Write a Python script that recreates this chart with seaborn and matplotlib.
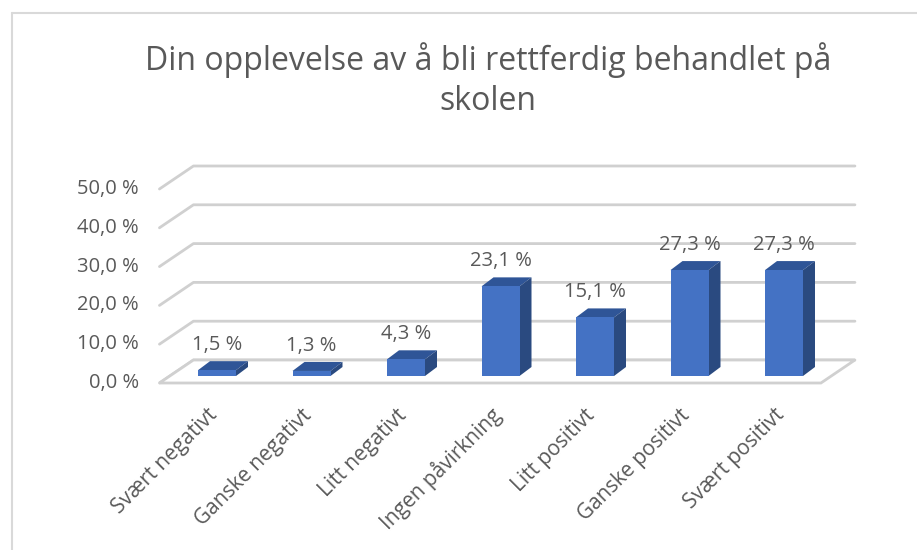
import numpy as np
import pandas as pd
import matplotlib
matplotlib.use("Agg")
import matplotlib.pyplot as plt
from matplotlib.patches import Polygon
from matplotlib.lines import Line2D
import seaborn as sns

# Data
CATEGORIES = ["Svært negativt", "Ganske negativt", "Litt negativt", "Ingen påvirkning",
              "Litt positivt", "Ganske positivt", "Svært positivt"]
VALUES = [1.5, 1.3, 4.3, 23.1, 15.1, 27.3, 27.3]
TICKS = [0, 10, 20, 30, 40, 50]
TITLE = "Din opplevelse av å bli rettferdig behandlet på\nskolen"

# Layout (pixels of a 917x550 figure)
W, H = 917, 550
X0_PX, DX_PX = 217, 94.5      # first bar centre, spacing between categories
Y0_PX, DY_PX = 376, 3.88      # bar base (from top), pixels per percent
XLIM = (-1.0, 7.0)
YLIM = (-8.0, 56.0)

# 3D depth offsets in data units
FRONT = (-10.3 / DX_PX, -7 / DY_PX)
BACK = (23.7 / DX_PX, 16 / DY_PX)
BAR_D = (12 / DX_PX, 9 / DY_PX)
BAR_W = 38 / DX_PX

FRONT_COL = "#4472C4"
TOP_COL = "#2F5597"
SIDE_COL = "#2A4A80"
GRID_COL = "#D0D0D0"
TEXT_COL = "#595959"

sns.set_theme(style="white")
plt.rcParams["font.family"] = ["Open Sans", "DejaVu Sans"]

fig = plt.figure(figsize=(W / 100, H / 100), dpi=100)
left_px = X0_PX + XLIM[0] * DX_PX
right_px = X0_PX + XLIM[1] * DX_PX
bot_px = Y0_PX - YLIM[0] * DY_PX
top_px = Y0_PX - YLIM[1] * DY_PX
ax = fig.add_axes([left_px / W, 1 - bot_px / H, (right_px - left_px) / W, (bot_px - top_px) / H])

df = pd.DataFrame({"kategori": CATEGORIES, "andel": VALUES})

# gridlines: left side wall + back wall
x_l, x_r = -0.5, 6.5
for v in TICKS:
    xs = [x_l + FRONT[0], x_l + BACK[0], x_r + BACK[0]]
    ys = [v + FRONT[1], v + BACK[1], v + BACK[1]]
    ax.plot(xs, ys, color=GRID_COL, lw=2, zorder=1, solid_capstyle="round")
    ax.text(x_l + FRONT[0] - 0.22, v + FRONT[1], f"{v:.1f} %".replace(".", ","),
            ha="right", va="center", fontsize=14.5, color=TEXT_COL)

# floor outline
floor = [(x_l + FRONT[0], FRONT[1]), (x_r + FRONT[0], FRONT[1]),
         (x_r + BACK[0], BACK[1]), (x_l + BACK[0], BACK[1])]
ax.add_patch(Polygon(floor, closed=True, facecolor="white", edgecolor=GRID_COL, lw=2, zorder=1.5))

# front faces
sns.barplot(data=df, x="kategori", y="andel", color=FRONT_COL, saturation=1,
            width=BAR_W, ax=ax, zorder=3, edgecolor="none")

# top and side faces
for i, v in enumerate(VALUES):
    xl, xr = i - BAR_W / 2, i + BAR_W / 2
    top = [(xl, v), (xr, v), (xr + BAR_D[0], v + BAR_D[1]), (xl + BAR_D[0], v + BAR_D[1])]
    side = [(xr, 0), (xr, v), (xr + BAR_D[0], v + BAR_D[1]), (xr + BAR_D[0], BAR_D[1])]
    ax.add_patch(Polygon(top, closed=True, facecolor=TOP_COL, edgecolor="none", zorder=2.9))
    ax.add_patch(Polygon(side, closed=True, facecolor=SIDE_COL, edgecolor="none", zorder=2.9))
    ax.text(i, v + 25 / DY_PX, f"{v:.1f} %".replace(".", ","), ha="center", va="center",
            fontsize=14.5, color=TEXT_COL, zorder=4)
    ax.text(i - 0.03, FRONT[1] - 7.5, CATEGORIES[i], rotation=45, rotation_mode="anchor",
            ha="right", va="center", fontsize=15, color=TEXT_COL)

ax.set_xlim(*XLIM)
ax.set_ylim(*YLIM)
ax.set_axis_off()

fig.text(488 / W, 1 - 80 / H, TITLE, ha="center", va="center", fontsize=23,
         color=TEXT_COL, linespacing=1.3)

# chart border (top and left edge visible)
fig.add_artist(Line2D([12 / W, 1], [1 - 13 / H, 1 - 13 / H], color="#D9D9D9", lw=1.5))
fig.add_artist(Line2D([12 / W, 12 / W], [0, 1 - 13 / H], color="#D9D9D9", lw=1.5))

fig.savefig("out.png", dpi=100, facecolor="white")
